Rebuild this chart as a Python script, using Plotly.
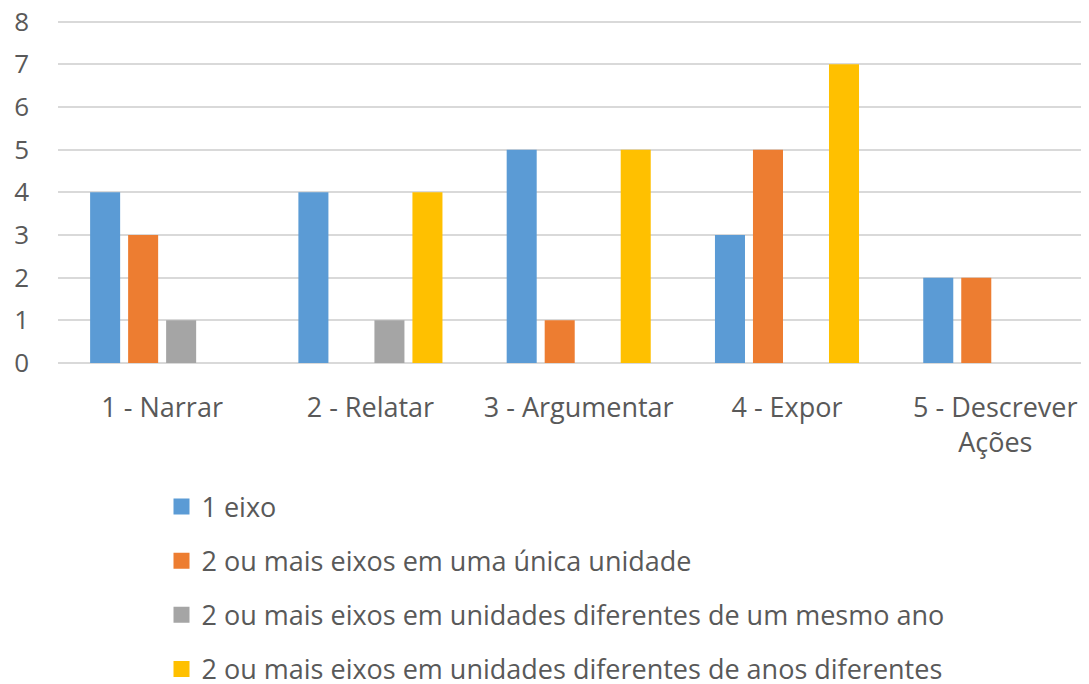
import plotly.graph_objects as go

categories = ["1 - Narrar", "2 - Relatar", "3 - Argumentar", "4 - Expor", "5 - Descrever<br>Ações"]
series_names = [
    "1 eixo",
    "2 ou mais eixos em uma única unidade",
    "2 ou mais eixos em unidades diferentes de um mesmo ano",
    "2 ou mais eixos em unidades diferentes de anos diferentes",
]
s1 = [4, 4, 5, 3, 2]
s2 = [3, 0, 1, 5, 2]
s3 = [1, 1, 0, 0, 0]
s4 = [0, 4, 5, 7, 0]
colors = ["#5B9BD5", "#ED7D31", "#A5A5A5", "#FFC000"]
y_ticks = [0, 1, 2, 3, 4, 5, 6, 7, 8]

FONT = "Open Sans, sans-serif"
TXT = "#595959"

fig = go.Figure()
for i, (name, vals) in enumerate(zip(series_names, [s1, s2, s3, s4])):
    fig.add_trace(go.Bar(
        x=list(range(len(categories))), y=vals, name=name,
        marker=dict(color=colors[i], line=dict(width=0)),
        legendgroup=str(i), showlegend=False,
    ))
# legend entries (square swatches)
for i, name in enumerate(series_names):
    fig.add_trace(go.Scatter(
        x=[None], y=[None], mode="markers", name=name,
        marker=dict(symbol="square", size=16, color=colors[i]),
        legendgroup=str(i), showlegend=True,
    ))

fig.update_layout(
    width=1081, height=676,
    barmode="group", bargap=0.27, bargroupgap=0.21,
    plot_bgcolor="white", paper_bgcolor="white",
    margin=dict(l=50, r=0, t=12, b=321, autoexpand=False),
    font=dict(family=FONT, color=TXT, size=27),
    legend=dict(
        orientation="v", xref="container", yref="container",
        x=0.142, y=0.298, xanchor="left", yanchor="top",
        font=dict(size=27, color=TXT), tracegroupgap=16,
        bgcolor="rgba(0,0,0,0)", itemsizing="trace",
    ),
    showlegend=True,
)
fig.update_xaxes(
    tickmode="array", tickvals=list(range(len(categories))), ticktext=categories,
    range=[-0.5, 4.45], showgrid=False, showline=False, zeroline=False,
    ticks="", ticklabelstandoff=26, tickfont=dict(size=27, color=TXT),
)
fig.update_yaxes(
    range=[0, 8.04], tickvals=y_ticks, showgrid=True, gridcolor="#D9D9D9", gridwidth=1.5,
    zeroline=True, zerolinecolor="#D9D9D9", zerolinewidth=1.5,
    showline=False, ticks="", ticklabelstandoff=28, ticklabeloverflow="allow",
    tickfont=dict(size=26, color=TXT),
)
fig.write_html("out.html")
